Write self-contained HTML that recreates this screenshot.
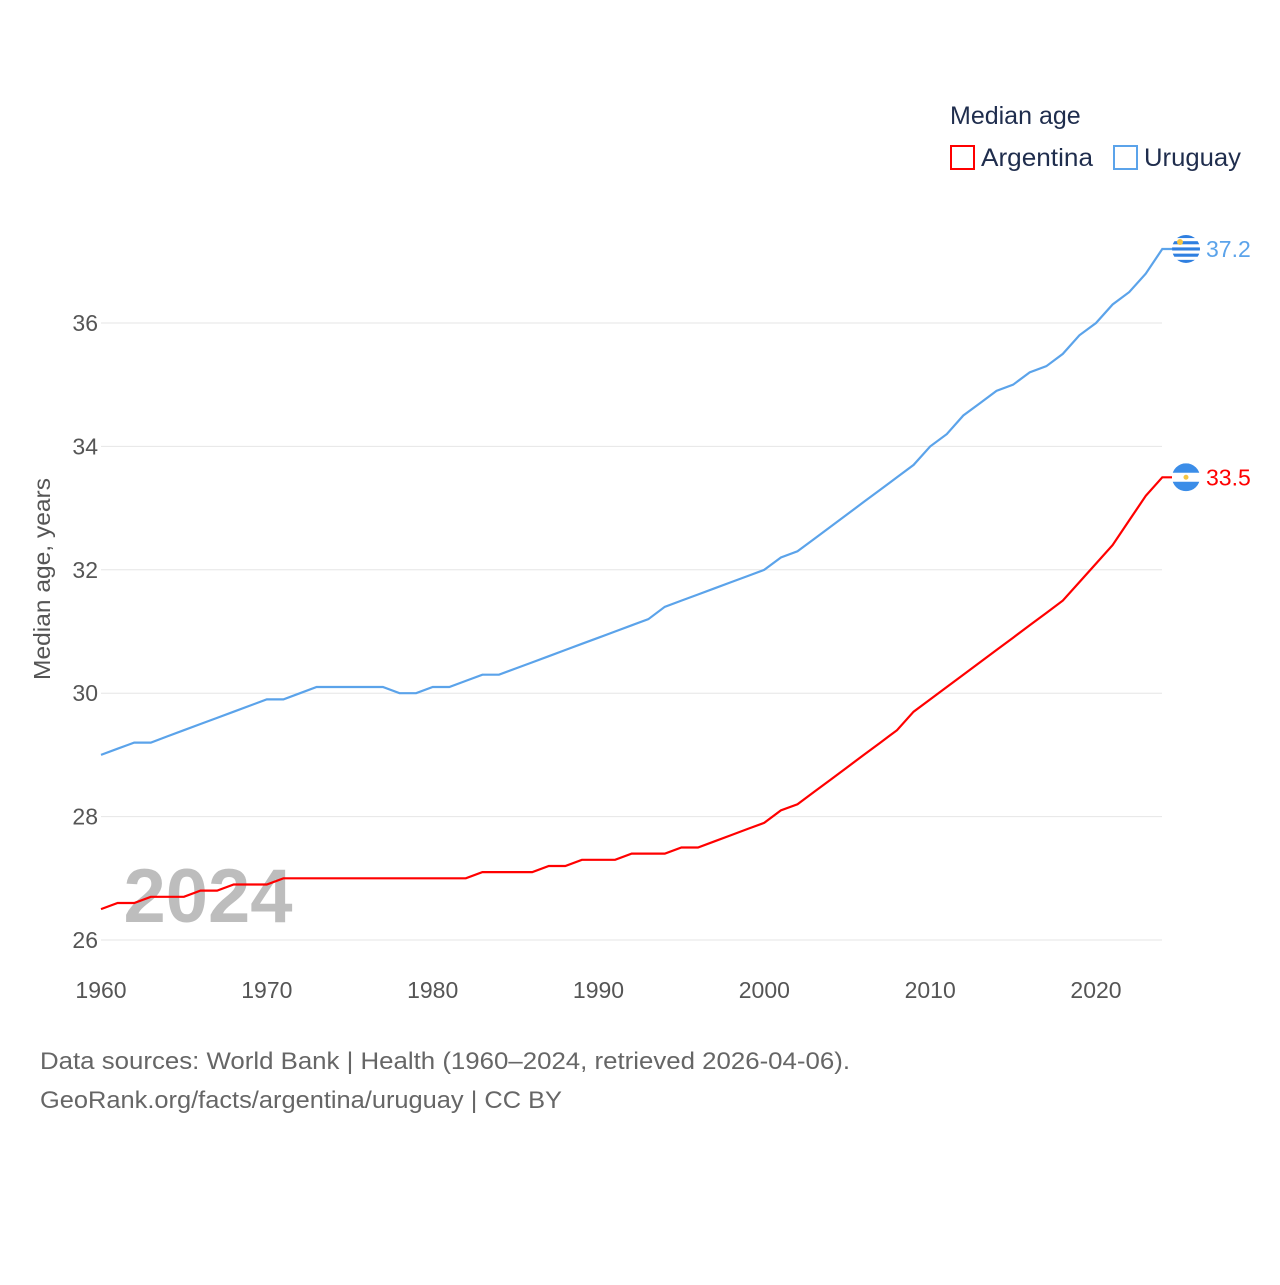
<!DOCTYPE html>
<html><head><meta charset="utf-8"><style>
body{margin:0;background:#fff;font-family:"Liberation Sans",sans-serif;}
svg text{font-family:"Liberation Sans",sans-serif;}
</style></head><body>
<svg id="chart" width="1280" height="1280" viewBox="0 0 1280 1280">
<g id="grid"></g>
<g id="yticks"></g>
<g id="xticks"></g>
<text x="208" y="922" font-size="76" font-weight="bold" fill="#bdbdbd" text-anchor="middle">2024</text>
<g id="series"></g>
<text transform="translate(50,579) rotate(-90)" font-size="23" fill="#555" text-anchor="middle" textLength="202" lengthAdjust="spacingAndGlyphs">Median age, years</text>
<text x="950" y="124" font-size="25" fill="#1f2d4d">Median age</text>
<g><rect x="951" y="146" width="23" height="23" fill="none" stroke="#ff0000" stroke-width="2"/><text x="981" y="166" font-size="25" fill="#1f2d4d" textLength="112" lengthAdjust="spacingAndGlyphs">Argentina</text></g>
<g><rect x="1114" y="146" width="23" height="23" fill="none" stroke="#5ba3ea" stroke-width="2"/><text x="1144" y="166" font-size="25" fill="#1f2d4d" textLength="97" lengthAdjust="spacingAndGlyphs">Uruguay</text></g>
<text x="40" y="1069" font-size="24" fill="#666" textLength="810" lengthAdjust="spacingAndGlyphs">Data sources: World Bank | Health (1960–2024, retrieved 2026-04-06).</text>
<text x="40" y="1108" font-size="24" fill="#666" textLength="522" lengthAdjust="spacingAndGlyphs">GeoRank.org/facts/argentina/uruguay | CC BY</text>
</svg>
<script>
const years=[];for(let y=1960;y<=2024;y++)years.push(y);
const uruguay=[29.0,29.1,29.2,29.2,29.3,29.4,29.5,29.6,29.7,29.8,29.9,29.9,30.0,30.1,30.1,30.1,30.1,30.1,30.0,30.0,30.1,30.1,30.2,30.3,30.3,30.4,30.5,30.6,30.7,30.8,30.9,31.0,31.1,31.2,31.4,31.5,31.6,31.7,31.8,31.9,32.0,32.2,32.3,32.5,32.7,32.9,33.1,33.3,33.5,33.7,34.0,34.2,34.5,34.7,34.9,35.0,35.2,35.3,35.5,35.8,36.0,36.3,36.5,36.8,37.2];
const argentina=[26.5,26.6,26.6,26.7,26.7,26.7,26.8,26.8,26.9,26.9,26.9,27.0,27.0,27.0,27.0,27.0,27.0,27.0,27.0,27.0,27.0,27.0,27.0,27.1,27.1,27.1,27.1,27.2,27.2,27.3,27.3,27.3,27.4,27.4,27.4,27.5,27.5,27.6,27.7,27.8,27.9,28.1,28.2,28.4,28.6,28.8,29.0,29.2,29.4,29.7,29.9,30.1,30.3,30.5,30.7,30.9,31.1,31.3,31.5,31.8,32.1,32.4,32.8,33.2,33.5];
const yTicks=[26,28,30,32,34,36];
const xTicks=[1960,1970,1980,1990,2000,2010,2020];
const NS="http://www.w3.org/2000/svg";
const xs=y=>101+(y-1960)*(1096-101)/60;
const ys=v=>940-(v-26)*(940-323)/10;
function mk(tag,attrs,parent){const e=document.createElementNS(NS,tag);for(const k in attrs)e.setAttribute(k,attrs[k]);parent.appendChild(e);return e;}
const grid=document.getElementById('grid'),yt=document.getElementById('yticks'),xt=document.getElementById('xticks'),ser=document.getElementById('series');
yTicks.forEach(v=>{
 const l=mk('line',{x1:101,x2:1162,y1:ys(v),y2:ys(v),stroke:'#e6e6e6','stroke-width':1},grid);
 
 
 const t=mk('text',{x:98,y:ys(v)+8,'font-size':23,fill:'#555','text-anchor':'end'},yt);
 t.textContent=v;
 
 
});
xTicks.forEach(v=>{
 const t=mk('text',{x:xs(v),y:998,'font-size':23,fill:'#555','text-anchor':'middle'},xt);
 t.textContent=v;
 
 
});
function line(vals,color,name){
 const d=vals.map((v,i)=>(i?'L':'M')+xs(years[i]).toFixed(1)+','+ys(v).toFixed(1)).join(' ');
 const last=vals[vals.length-1];
 const p=mk('path',{d:d+' L1172,'+ys(last).toFixed(1),fill:'none',stroke:color,'stroke-width':2.2},ser);
 
 
 const t=mk('text',{x:1206,y:ys(last)+8,'font-size':23,fill:color},ser);
 t.textContent=last.toFixed(1);
 
 
 return ys(last);
}
function flag(cy,type){
 const g=mk('g',{},ser);
 
 
 const id='c'+type;
 const cp=mk('clipPath',{id:id},g);mk('circle',{cx:1186,cy:cy,r:14},cp);
 const gg=mk('g',{'clip-path':'url(#'+id+')'},g);
 mk('rect',{x:1172,y:cy-14,width:28,height:28,fill:'#fff'},gg);
 if(type==='uruguay'){
  for(let i=0;i<9;i+=2)mk('rect',{x:1172,y:cy-14+i*28/9,width:28,height:28/9,fill:'#2f7fe0'},gg);
  mk('circle',{cx:1180,cy:cy-7,r:3,fill:'#f5c542'},gg);
 }else{
  mk('rect',{x:1172,y:cy-14,width:28,height:9.5,fill:'#3b8de8'},gg);
  mk('rect',{x:1172,y:cy+4.5,width:28,height:9.5,fill:'#3b8de8'},gg);
  mk('circle',{cx:1186,cy:cy,r:2.5,fill:'#f5c542'},gg);
 }
}
const yu=line(uruguay,'#5ba3ea','uruguay');
const ya=line(argentina,'#ff0000','argentina');
flag(yu,'uruguay');flag(ya,'argentina');
</script>
</body></html>
